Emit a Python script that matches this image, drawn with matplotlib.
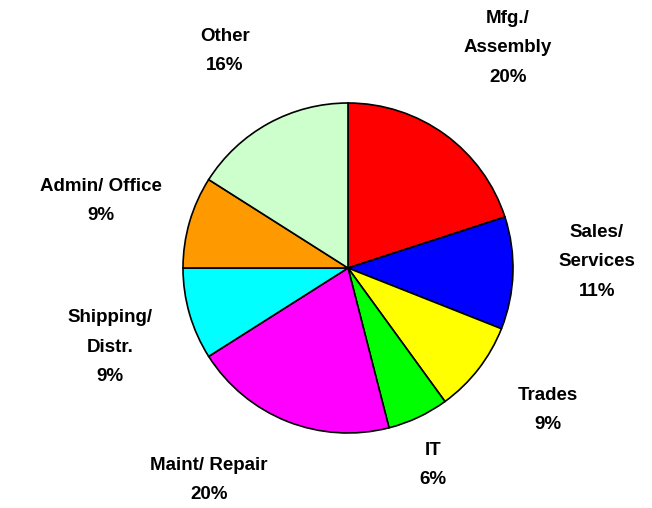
import matplotlib
matplotlib.use('Agg')
import matplotlib.pyplot as plt

# ── data ──
categories = ['Mfg./\nAssembly', 'Sales/\nServices', 'Trades', 'IT',
              'Maint/ Repair', 'Shipping/\nDistr.', 'Admin/ Office', 'Other']
shares = [20, 11, 9, 6, 20, 9, 9, 16]
colors = ['#FF0000', '#0000FF', '#FFFF00', '#00FF00',
          '#FF00FF', '#00FFFF', '#FF9900', '#CCFFCC']

# label block centres in pixel space (x, y from top)
label_pos = [(508, 48), (597, 262), (548, 410), (433, 465),
             (209, 480), (110, 347), (101, 201), (225, 51)]

W, H = 652, 508
plt.rcParams['font.family'] = ['Liberation Sans', 'DejaVu Sans']

fig = plt.figure(figsize=(W / 100, H / 100), dpi=100)
ax = fig.add_axes([0, 0, 1, 1])

ax.pie(shares, colors=colors, startangle=90, counterclock=False,
       center=(348, H - 268), radius=165, frame=True,
       wedgeprops={'edgecolor': 'black', 'linewidth': 1.2})
ax.set_xlim(0, W)
ax.set_ylim(0, H)
ax.set_aspect('equal')
ax.axis('off')

for name, val, (x, y) in zip(categories, shares, label_pos):
    ax.text(x, H - y, f'{name}\n{val}%', ha='center', va='center',
            fontsize=13.5, fontweight='bold', linespacing=1.95)

fig.savefig('out.png', dpi=100)
